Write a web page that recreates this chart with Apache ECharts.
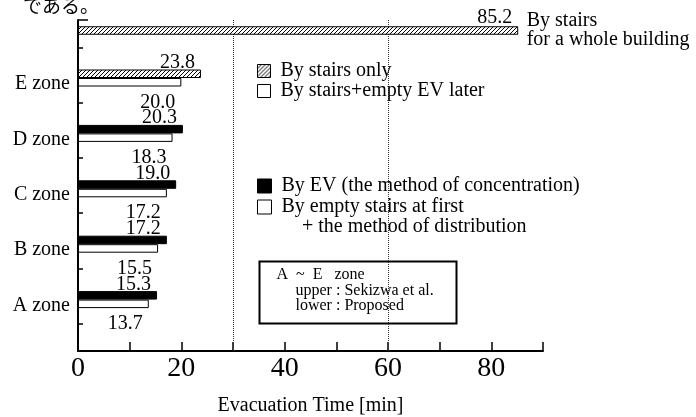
<!DOCTYPE html>
<html>
<head>
<meta charset="utf-8">
<script src="https://cdn.jsdelivr.net/npm/echarts@6/dist/echarts.min.js"></script>
<style>
  html, body { margin: 0; padding: 0; background: #fff; }
  #chart { width: 696px; height: 417px; }
</style>
</head>
<body>
<div id="chart"></div>
<script>
// Zones, listed top to bottom
const zones = ['E zone', 'D zone', 'C zone', 'B zone', 'A zone'];
// Upper bar of each zone (Sekizawa et al.): E by stairs only, D–A by EV
const upperValues = [23.8, 20.3, 19.0, 17.2, 15.3];
// Lower bar of each zone (proposed method)
const lowerValues = [20.0, 18.3, 17.2, 15.5, 13.7];
// Evacuation of the whole building by stairs
const wholeCategory = ['Whole building'];
const wholeValues = [85.2];
// Dotted reference lines [min]
const guideLines = [30, 60];
// Labelled x ticks
const xTickLabels = [0, 20, 40, 60, 80];

const SERIF = '"Liberation Serif", "Times New Roman", serif';
const X_MIN = 0, X_MAX = 90;
const BAR = 8.5;

// Diagonal "////" hatch used for the stairs-only bars
function makeHatch() {
  const c = document.createElement('canvas');
  c.width = 4; c.height = 4;
  const g = c.getContext('2d');
  g.fillStyle = '#fff';
  g.fillRect(0, 0, 4, 4);
  g.fillStyle = '#000';
  for (let i = 0; i < 4; i++) g.fillRect(i, 3 - i, 1, 1);
  return c;
}
const hatchFill = { image: makeHatch(), repeat: 'repeat' };

const hatchStyle = { color: hatchFill, borderColor: '#000', borderWidth: 1 };
const blackStyle = { color: '#000', borderColor: '#000', borderWidth: 1 };
const whiteStyle = { color: '#fff', borderColor: '#000', borderWidth: 1 };

const valueLabel = (dy) => ({
  show: true,
  position: 'right',
  distance: 0,
  align: 'right',
  verticalAlign: 'middle',
  offset: [-6, dy],
  fontFamily: SERIF,
  fontSize: 20,
  color: '#000',
  formatter: (p) => p.value.toFixed(1)
});

const onlyFirst = (arr) => arr.map((v, i) => (i === 0 ? v : '-'));
const exceptFirst = (arr) => arr.map((v, i) => (i === 0 ? '-' : v));

const zoneBar = (name, stack, data, style, label) => ({
  name, type: 'bar', xAxisIndex: 1, yAxisIndex: 1,
  stack, barWidth: BAR, barGap: '0%',
  data, itemStyle: style, label,
  emphasis: { disabled: true }, z: 3
});

const hiddenX = (gridIndex) => ({
  type: 'value', gridIndex, min: X_MIN, max: X_MAX,
  axisLine: { show: false }, axisTick: { show: false },
  axisLabel: { show: false }, splitLine: { show: false }
});

const gridBox = (top, height) => ({
  left: 78, width: 465, top, height,
  containLabel: false, outerBoundsMode: 'none'
});

const chart = echarts.init(document.getElementById('chart'), null, { renderer: 'canvas' });

chart.setOption({
  animation: false,
  backgroundColor: '#fff',
  textStyle: { fontFamily: SERIF, color: '#000' },
  grid: [
    gridBox(20, 331),    // axes frame
    gridBox(50.3, 277),  // zone bars
    gridBox(26.5, 8)     // whole-building bar
  ],
  xAxis: [
    {
      type: 'value', gridIndex: 0, min: X_MIN, max: X_MAX, interval: 10,
      axisLine: { show: true, lineStyle: { color: '#000', width: 2 } },
      axisTick: { show: true, inside: true, length: 9, lineStyle: { color: '#000', width: 1.5 } },
      axisLabel: {
        margin: 4, fontFamily: SERIF, fontSize: 28, color: '#000',
        formatter: (v) => (xTickLabels.includes(v) ? String(v) : '')
      },
      splitLine: { show: false },
      name: 'Evacuation Time [min]', nameLocation: 'middle', nameGap: 45,
      nameTextStyle: { fontFamily: SERIF, fontSize: 20, color: '#000' }
    },
    hiddenX(1),
    hiddenX(2)
  ],
  yAxis: [
    {
      type: 'value', gridIndex: 0, min: 0, max: 12, position: 'left',
      axisLine: { show: true, lineStyle: { color: '#000', width: 2 } },
      axisTick: { show: true, inside: true, length: 5, customValues: [1, 3, 5, 7, 9, 11],
                  lineStyle: { color: '#000', width: 1.5 } },
      axisLabel: { show: false }, splitLine: { show: false }
    },
    {
      type: 'category', gridIndex: 1, inverse: true, data: zones,
      axisLine: { show: false }, axisTick: { show: false }, splitLine: { show: false },
      axisLabel: { margin: 8, fontFamily: SERIF, fontSize: 20, color: '#000',
                   verticalAlign: 'top', lineHeight: 12 }
    },
    {
      type: 'category', gridIndex: 2, data: wholeCategory,
      axisLine: { show: false }, axisTick: { show: false },
      axisLabel: { show: false }, splitLine: { show: false }
    },
    {
      type: 'value', gridIndex: 0, min: 0, max: 12, position: 'left',
      axisLine: { show: false },
      axisTick: { show: true, inside: true, length: 10, customValues: [0, 12],
                  lineStyle: { color: '#000', width: 1.5 } },
      axisLabel: { show: false }, splitLine: { show: false }
    }
  ],
  legend: [
    {
      orient: 'vertical', left: 252, top: 56, itemWidth: 13, itemHeight: 13, itemGap: 0,
      icon: 'rect', selectedMode: false,
      textStyle: { fontFamily: SERIF, fontSize: 20, color: '#000', padding: [0, 0, 0, 5] },
      itemStyle: { borderColor: '#000', borderWidth: 1 },
      data: ['By stairs only', 'By stairs+empty EV later']
    },
    {
      orient: 'vertical', left: 252, top: 171, itemWidth: 14, itemHeight: 14, itemGap: 1,
      icon: 'rect', selectedMode: false,
      textStyle: { fontFamily: SERIF, fontSize: 20, color: '#000', padding: [0, 0, 0, 5] },
      itemStyle: { borderColor: '#000', borderWidth: 1 },
      data: ['By EV (the method of concentration)', 'By empty stairs at first']
    }
  ],
  graphic: [
    {
      type: 'text', left: 23, top: -4, silent: true,
      style: { text: 'である。', font: '19px "Noto Sans CJK JP"', fill: '#000' }
    },
    {
      type: 'text', left: 302, top: 217, silent: true,
      style: { text: '+ the method of distribution', font: '20px ' + SERIF, fill: '#000' }
    },
    {
      type: 'group', left: 257, top: 259, silent: true,
      children: [
        { type: 'rect', shape: { x: 0, y: 0, width: 197, height: 62 },
          style: { fill: 'none', stroke: '#000', lineWidth: 2 } },
        { type: 'text', x: 17, y: 5,
          style: { text: 'A  ~  E   zone', font: '16px ' + SERIF, fill: '#000' } },
        { type: 'text', x: 36, y: 21,
          style: { text: 'upper : Sekizwa et al.', font: '16px ' + SERIF, fill: '#000' } },
        { type: 'text', x: 36, y: 36,
          style: { text: 'lower : Proposed', font: '16px ' + SERIF, fill: '#000' } }
      ]
    }
  ],
  series: [
    zoneBar('By stairs only', 'upper', onlyFirst(upperValues), hatchStyle, valueLabel(-11)),
    zoneBar('By EV (the method of concentration)', 'upper', exceptFirst(upperValues), blackStyle, valueLabel(-11)),
    zoneBar('By stairs+empty EV later', 'lower', onlyFirst(lowerValues), whiteStyle, valueLabel(20)),
    zoneBar('By empty stairs at first', 'lower', exceptFirst(lowerValues), whiteStyle, valueLabel(20)),
    {
      name: 'By stairs for a whole building', type: 'bar', xAxisIndex: 2, yAxisIndex: 2,
      barWidth: BAR, data: wholeValues, itemStyle: hatchStyle, z: 3,
      emphasis: { disabled: true },
      label: valueLabel(-13),
      markPoint: {
        silent: true, symbol: 'rect', symbolSize: 1,
        itemStyle: { color: 'rgba(0,0,0,0)' },
        label: {
          show: true, position: 'right', distance: 8, align: 'left',
          fontFamily: SERIF, fontSize: 20, lineHeight: 19, color: '#000',
          formatter: 'By stairs\nfor a whole building'
        },
        data: [{ coord: [wholeValues[0], 0] }]
      }
    },
    {
      type: 'line', xAxisIndex: 0, yAxisIndex: 0, data: [], z: 1,
      markLine: {
        silent: true, symbol: 'none', z: 1,
        label: { show: false },
        lineStyle: { type: 'dotted', color: '#333', width: 1 },
        data: guideLines.map((v) => ({ xAxis: v }))
      }
    }
  ]
});
</script>
</body>
</html>
